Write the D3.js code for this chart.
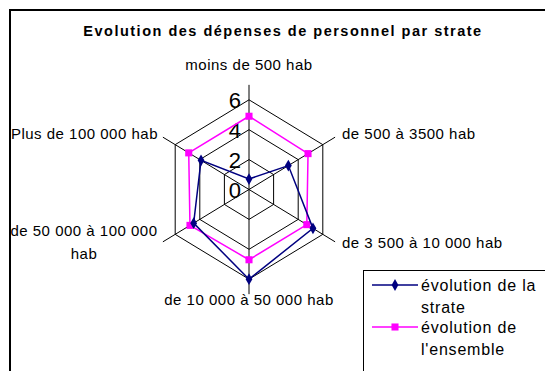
<!DOCTYPE html>
<html>
<head>
<meta charset="utf-8">
<script src="https://cdn.jsdelivr.net/npm/d3@7"></script>
<style>
  body { margin: 0; background: #fff; }
  text { font-family: "Liberation Sans", Arial, sans-serif; }
</style>
</head>
<body>
<script>
// données
const categories = ["moins de 500 hab", "de 500 à 3500 hab", "de 3 500 à 10 000 hab",
  "de 10 000 à 50 000 hab", "de 50 000 à 100 000 hab", "Plus de 100 000 hab"];
const strate = [0.7, 3.2, 5.2, 6.0, 4.5, 3.9];
const ensemble = [4.9, 4.8, 4.7, 4.7, 4.8, 4.9];
const ticks = [0, 2, 4, 6];
const titre = "Evolution des dépenses de personnel par strate";
const legende = [["évolution de la", "strate"], ["évolution de", "l'ensemble"]];

const W = 545, H = 371;
const cx = 249, cy = 189.5, sx = 0.95;

const svg = d3.select("body").append("svg")
  .attr("width", W).attr("height", H);

// cadre
svg.append("rect").attr("x", 10).attr("y", 10)
  .attr("width", 560).attr("height", 400)
  .attr("fill", "none").attr("stroke", "#000").attr("stroke-width", 2);

svg.append("text").attr("x", 283).attr("y", 36)
  .attr("text-anchor", "middle").attr("font-weight", "bold")
  .attr("font-size", 14.5).attr("letter-spacing", 1.5)
  .text(titre);

const r = d3.scaleLinear().domain([0, 6]).range([0, 89.7]);
const angle = d3.scalePoint().domain(d3.range(categories.length))
  .range([0, 2 * Math.PI * (categories.length - 1) / categories.length]);

const px = (i, v) => cx + Math.sin(angle(i)) * r(v) * sx;
const py = (i, v) => cy - Math.cos(angle(i)) * r(v);

const g = svg.append("g");

// anneaux
ticks.filter(t => t > 0).forEach(t => {
  g.append("path")
    .attr("d", d3.line()(categories.map((c, i) => [px(i, t), py(i, t)])) + "Z")
    .attr("fill", "none").attr("stroke", "#000").attr("stroke-width", 1);
});

// rayons
categories.forEach((c, i) => {
  g.append("line")
    .attr("x1", cx).attr("y1", cy)
    .attr("x2", px(i, 7)).attr("y2", py(i, 7))
    .attr("stroke", "#000").attr("stroke-width", 1);
});

// valeurs de l'axe
g.selectAll(".tick").data(ticks).enter().append("text")
  .attr("x", cx - 8).attr("y", d => cy - r(d) + 8)
  .attr("text-anchor", "end").attr("font-size", 22)
  .text(d => d);

// libellés
const lab = [
  { x: 249, y: 70, a: "middle", l: [categories[0]] },
  { x: 342, y: 139, a: "start", l: [categories[1]] },
  { x: 342, y: 248, a: "start", l: [categories[2]] },
  { x: 249, y: 305, a: "middle", l: [categories[3]] },
  { x: 84, y: 236, a: "middle", l: ["de 50 000 à 100 000", "hab"] },
  { x: 158, y: 139, a: "end", l: [categories[5]] }
];
lab.forEach(d => {
  const t = svg.append("text").attr("x", d.x).attr("y", d.y)
    .attr("text-anchor", d.a).attr("font-size", 15).attr("letter-spacing", 0.5);
  d.l.forEach((s, k) => t.append("tspan").attr("x", d.x).attr("dy", k ? 23 : 0).text(s));
});

const series = [
  { v: ensemble, c: "#ff00ff", m: d3.symbolSquare, s: 50 },
  { v: strate, c: "#000080", m: d3.symbolDiamond, s: 40 }
];
series.forEach(se => {
  g.append("path")
    .attr("d", d3.line()(se.v.map((v, i) => [px(i, v), py(i, v)])) + "Z")
    .attr("fill", "none").attr("stroke", se.c).attr("stroke-width", 1.5);
  g.selectAll(null).data(se.v).enter().append("path")
    .attr("d", d3.symbol().type(se.m).size(se.s))
    .attr("transform", (v, i) => `translate(${px(i, v)},${py(i, v)})`)
    .attr("fill", se.c);
});

// légende
svg.append("rect").attr("x", 363.5).attr("y", 270.5)
  .attr("width", 200).attr("height", 120)
  .attr("fill", "#fff").attr("stroke", "#000").attr("stroke-width", 1);
[series[1], series[0]].forEach((se, k) => {
  const y0 = 285 + k * 42;
  svg.append("line").attr("x1", 372).attr("x2", 418).attr("y1", y0).attr("y2", y0)
    .attr("stroke", se.c).attr("stroke-width", 1.5);
  svg.append("path").attr("d", d3.symbol().type(se.m).size(se.s))
    .attr("transform", `translate(395,${y0})`).attr("fill", se.c);
  const t = svg.append("text").attr("x", 421).attr("y", y0 + 5.5)
    .attr("font-size", 16).attr("letter-spacing", 0.8);
  legende[k].forEach((s, j) => t.append("tspan").attr("x", 421).attr("dy", j ? 22 : 0).text(s));
});
</script>
</body>
</html>
